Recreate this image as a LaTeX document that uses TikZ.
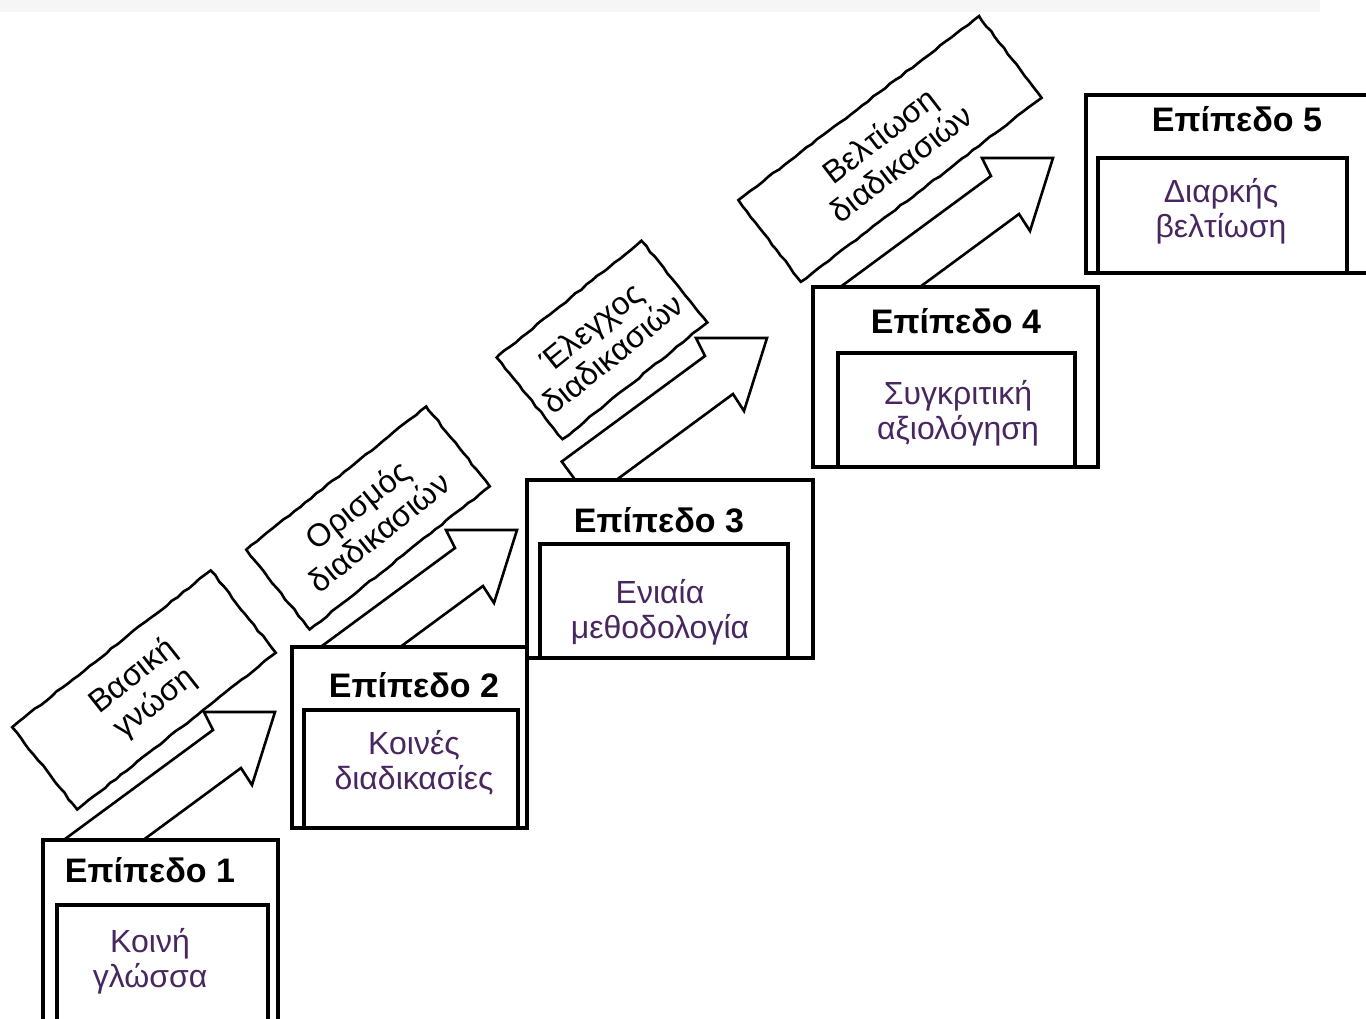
\documentclass[tikz,border=0pt]{standalone}
\usepackage{fontspec}
\setmainfont{Liberation Sans}
\usepackage{xcolor}
\usetikzlibrary{decorations.pathmorphing}
\definecolor{boxtext}{RGB}{72,38,96}
% block arrow climbing to the next level: tip, shaft length
\newcommand{\steparrow}[2]{%
  \draw[blockarrow] (#1) -- ++(-23,73) -- ++(-11,-17) -- ++({-0.805*#2},{0.593*#2})
    -- ++(-28,-38) -- ++({0.805*#2},{-0.593*#2}) -- ++(-9,-18) -- cycle;}

\begin{document}
\begin{tikzpicture}[x=1pt,y=-1pt]
  \tikzset{
    outerbox/.style={draw,line width=3.5pt,fill=white,anchor=north west,inner sep=0pt,outer sep=0pt},
    innerbox/.style={draw,line width=3.5pt,fill=white,anchor=north west,inner sep=0pt,outer sep=0pt},
    lvltitle/.style={anchor=base,inner sep=0pt,font=\fontsize{34}{36}\selectfont\bfseries},
    lvltext/.style={anchor=base,inner sep=0pt,align=center,text=boxtext,font=\fontsize{32}{35}\selectfont},
    stepbox/.style={draw,line width=2.6pt,fill=white,inner sep=0pt,align=center,
      font=\fontsize{32}{35}\selectfont,decorate,
      decoration={random steps,segment length=7pt,amplitude=0.7pt}},
    blockarrow/.style={draw,line width=2.6pt,fill=white,line join=miter}
  }
  \useasboundingbox (0,0) rectangle (1366,1019);
  \clip (0,0) rectangle (1366,1019);
  \fill[gray!7] (0,0) rectangle (1320,12);

  % arrows between the levels
  \coordinate (tip1) at (275,712);
  \coordinate (tip2) at (517,530);
  \coordinate (tip3) at (767,338);
  \coordinate (tip4) at (1053,158);
  \steparrow{tip1}{200}
  \steparrow{tip2}{190}
  \steparrow{tip3}{178}
  \steparrow{tip4}{200}

  % step labels
  \node[stepbox,rotate=38.3,minimum width=253,minimum height=105] (s1) at (144,690) {Βασική\\γνώση};
  \node[stepbox,rotate=38.5,minimum width=230,minimum height=102] (s2) at (368,518) {Ορισμός\\διαδικασιών};
  \node[stepbox,rotate=38.9,minimum width=186,minimum height=105] (s3) at (602,340) {Έλεγχος\\διαδικασιών};
  \node[stepbox,rotate=37.4,minimum width=303,minimum height=103] (s4) at (890,149) {Βελτίωση\\διαδικασιών};

  % level 1
  \node[outerbox,minimum width=235,minimum height=200] (lvl1) at (43,840) {};
  \node[innerbox,minimum width=211,minimum height=135] (in1) at (57,905) {};
  \node[lvltitle] (h1) at (150,882) {Επίπεδο 1};
  \node[lvltext] (t1) at (150,987) {Κοινή\\γλώσσα};

  % level 2
  \node[outerbox,minimum width=235,minimum height=181] (lvl2) at (292,647) {};
  \node[innerbox,minimum width=214,minimum height=118] (in2) at (304,710) {};
  \node[lvltitle] (h2) at (414,697) {Επίπεδο 2};
  \node[lvltext] (t2) at (414,789) {Κοινές\\διαδικασίες};

  % level 3
  \node[outerbox,minimum width=286,minimum height=178] (lvl3) at (527,480) {};
  \node[innerbox,minimum width=248,minimum height=114] (in3) at (540,544) {};
  \node[lvltitle] (h3) at (659,532) {Επίπεδο 3};
  \node[lvltext] (t3) at (660,638) {Ενιαία\\μεθοδολογία};

  % level 4
  \node[outerbox,minimum width=285,minimum height=180] (lvl4) at (813,287) {};
  \node[innerbox,minimum width=237,minimum height=114] (in4) at (838,353) {};
  \node[lvltitle] (h4) at (956,333) {Επίπεδο 4};
  \node[lvltext] (t4) at (958,439) {Συγκριτική\\αξιολόγηση};

  % level 5
  \node[outerbox,minimum width=304,minimum height=178] (lvl5) at (1086,95) {};
  \node[innerbox,minimum width=249,minimum height=115] (in5) at (1098,158) {};
  \node[lvltitle] (h5) at (1237,132) {Επίπεδο 5};
  \node[lvltext] (t5) at (1221,238) {Διαρκής\\βελτίωση};
\end{tikzpicture}
\end{document}
